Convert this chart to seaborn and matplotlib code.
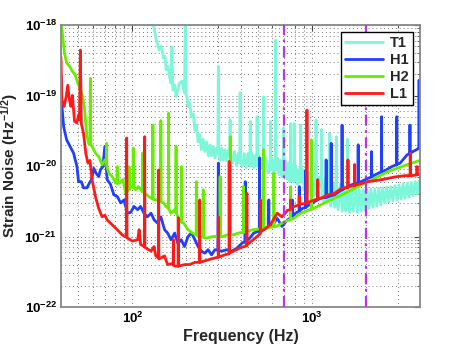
import numpy as np
import pandas as pd
import matplotlib
matplotlib.use("Agg")
import matplotlib.pyplot as plt
import seaborn as sns
from matplotlib.ticker import FixedLocator, FuncFormatter, NullFormatter

# ---------------- data ----------------
T1_freq = [130, 136, 141, 145, 149, 152, 154, 158, 161, 164, 166, 168, 172, 175, 179, 183,
           189, 193, 195, 197, 199, 201, 205, 208,
           213, 218, 223, 227, 232, 237, 242, 248, 253, 259, 265, 271, 276, 282, 288, 295,
           299, 301, 303, 308, 315, 321, 328, 335, 344, 348, 350, 352, 360, 370, 380, 388,
           396, 398, 400, 410, 420, 430, 440, 451, 453, 455, 465, 475, 485, 493, 495, 497,
           505, 515, 525, 536, 538, 540, 550, 560, 572, 585, 587, 589, 597, 610, 618, 625,
           627, 629, 640, 655, 668, 680, 694, 696, 698, 710, 725, 740, 752, 759, 761, 763,
           772, 785, 794, 796, 798, 812, 830, 848, 863, 866, 869, 885, 905, 925, 945, 965,
           985, 1005, 1025, 1051, 1054, 1057, 1075, 1100, 1127, 1130, 1133, 1155, 1180,
           1210, 1246, 1250, 1254, 1275, 1310, 1340, 1366, 1370, 1374, 1400, 1440, 1475,
           1510, 1545, 1576, 1580, 1584, 1620, 1660, 1700, 1745, 1790, 1835, 1880, 1930,
           1980, 2030, 2080, 2130, 2185, 2240, 2300, 2360, 2420, 2480, 2545, 2610, 2680,
           2750, 2820, 2900, 2980, 3060, 3140, 3220, 3300, 3390, 3480, 3570, 3660, 3760,
           3860, 3960, 4000]
T1_asd = [1.1e-18, 6e-19, 4.4e-19, 5e-19, 3.4e-19, 3.6e-19, 2.3e-19, 2.6e-19, 1.85e-19,
          1.5e-19, 4.9e-19, 1.2e-19, 1.4e-19, 9.7e-20, 1.2e-19, 1.5e-19,
          1.6e-19, 1.2e-19, 1.1e-19, 1.2e-18, 1.0e-19, 9.7e-20, 7e-20, 8e-20, 5e-20, 5.5e-20,
          3.2e-20, 3.8e-20, 2.2e-20, 2.8e-20, 1.7e-20, 2.4e-20, 1.6e-20, 2.2e-20, 1.4e-20,
          2.0e-20, 1.4e-20, 1.9e-20, 1.3e-20, 1.8e-20, 1.5e-20, 2.6e-19, 1.5e-20, 1.2e-20,
          1.8e-20, 1.2e-20, 1.7e-20, 1.2e-20, 1.7e-20, 1.4e-20, 4.5e-20, 1.3e-20, 1.1e-20,
          1.6e-20, 1.0e-20, 1.5e-20, 1.1e-20, 1.1e-19, 1.1e-20, 1.0e-20, 1.5e-20, 9.5e-21,
          1.5e-20, 1.0e-20, 4.3e-20, 1.0e-20, 1.5e-20, 9.5e-21, 1.4e-20, 1.0e-20, 5.0e-20,
          1.0e-20, 1.4e-20, 9e-21, 1.3e-20, 9e-21, 9.6e-20, 9e-21, 1.3e-20, 1.2e-20, 8e-21,
          9e-21, 4.3e-20, 9e-21, 1.3e-20, 8e-21, 1.2e-20, 9e-21, 6.1e-19, 9e-21, 1.3e-20,
          7.5e-21, 1.2e-20, 7e-21, 8e-21, 3.5e-20, 8e-21, 1.2e-20, 6.5e-21, 1.1e-20, 6e-21,
          7e-21, 4.0e-20, 7e-21, 1.0e-20, 6e-21, 7e-21, 4.0e-20, 6e-21, 1.0e-20, 5.5e-21,
          9e-21, 6e-21, 3.8e-20, 6e-21, 9e-21, 4.5e-21, 8.5e-21, 4.2e-21, 8e-21, 4e-21,
          7.5e-21, 3.8e-21, 5e-21, 4.5e-20, 5e-21, 3.5e-21, 7e-21, 5e-21, 3.3e-20, 5e-21,
          3.2e-21, 6.5e-21, 3.0e-21, 4e-21, 2.9e-20, 4e-21, 2.7e-21, 5.8e-21, 2.6e-21, 4e-21,
          2.6e-20, 4e-21, 2.4e-21, 5.5e-21, 2.3e-21, 5.2e-21, 2.3e-21, 4e-21, 2.4e-20, 4e-21,
          2.2e-21, 5e-21, 2.3e-21, 4.8e-21, 2.2e-21, 4.7e-21, 2.3e-21, 4.6e-21, 2.4e-21,
          4.6e-21, 2.5e-21, 4.7e-21, 2.6e-21, 4.7e-21, 2.7e-21, 4.8e-21, 2.8e-21, 4.9e-21,
          3.0e-21, 5.0e-21, 3.1e-21, 5.1e-21, 3.2e-21, 5.3e-21, 3.3e-21, 5.4e-21, 3.4e-21,
          5.6e-21, 3.5e-21, 5.7e-21, 3.6e-21, 5.8e-21, 3.8e-21, 6.0e-21, 4.0e-21, 6.2e-21,
          5.0e-21]

H1_freq = [40.0, 40.5, 41.4, 43.0, 44.9, 47.0, 49.1, 50.1, 51.9, 53.4, 55.8, 57.5, 59.1,
           60.9, 62.7, 64.9, 66.3, 68.4, 70.2, 72.3, 75.5, 78.8, 82.3, 86.0, 89.8, 93.7,
           97.9, 102, 107, 111, 116, 121, 127, 132, 138, 144, 151, 157, 164, 172, 179, 187,
           195, 204, 213, 223, 232, 242, 253, 264, 276, 288, 299, 301, 303, 315, 335, 358,
           381, 407, 423, 425, 427, 443, 474, 509, 511, 513, 538, 573, 575, 577, 600, 641,
           681, 730, 777, 779, 781, 810, 848, 850, 852, 885, 923, 925, 927, 965, 1050, 1124,
           1198, 1200, 1202, 1250, 1278, 1280, 1282, 1336, 1410, 1469, 1472, 1475, 1520,
           1656, 1807, 1810, 1813, 1880, 2057, 2145, 2148, 2151, 2250, 2440, 2444, 2448,
           2550, 2786, 2966, 2970, 2974, 3100, 3390, 3512, 3516, 3520, 3650, 3900, 3950,
           3955, 3960, 4000]
H1_asd = [1.9e-19, 7.0e-20, 3.6e-20, 2.35e-20, 1.9e-20, 1.52e-20, 9.8e-21, 6.0e-21, 6.0e-21,
          4.9e-21, 4.9e-21, 5.7e-21, 6.4e-21, 9.3e-21, 7.9e-21, 7.1e-21, 8.8e-21, 9.8e-21,
          1.9e-20, 6.4e-21, 5.5e-21, 3.9e-21, 3.7e-21, 3.0e-21, 3.3e-21, 2.14e-21, 2.2e-21,
          2.67e-21, 2.4e-21, 2.67e-21, 2.14e-21, 1.9e-21, 2.14e-21, 1.72e-21, 1.55e-21,
          1.9e-21, 1.25e-21, 1.12e-21, 9.0e-22, 1.12e-21, 8.0e-22, 9.0e-22, 7.2e-22, 1.0e-21,
          1.12e-21, 9.0e-22, 7.2e-22, 6.2e-22, 5.8e-22, 6.5e-22, 5.5e-22, 6.5e-22, 6.4e-22,
          1.1e-20, 6.3e-22, 6.2e-22, 6.5e-22, 6.2e-22, 6.8e-22, 8.0e-22, 8.5e-22, 6.0e-21,
          8.6e-22, 9.0e-22, 1.12e-21, 1.2e-21, 1.3e-20, 1.2e-21, 1.25e-21, 1.4e-21, 3.3e-21,
          1.4e-21, 1.45e-21, 1.8e-21, 1.39e-21, 1.72e-21, 1.9e-21, 3.3e-21, 1.9e-21, 2.14e-21,
          2.3e-21, 5.1e-21, 2.3e-21, 2.5e-21, 2.6e-21, 8.8e-21, 2.6e-21, 2.8e-21, 3.2e-21,
          3.5e-21, 3.6e-21, 1.22e-20, 3.6e-21, 3.7e-21, 3.8e-21, 2.1e-20, 3.8e-21, 3.9e-21,
          4.3e-21, 4.6e-21, 3.8e-20, 4.6e-21, 4.8e-21, 5.4e-21, 5.8e-21, 2.0e-20, 5.8e-21,
          6.0e-21, 6.7e-21, 7.0e-21, 1.6e-20, 7.0e-21, 7.5e-21, 8.3e-21, 5.0e-20, 8.3e-21,
          8.6e-21, 9.8e-21, 1.05e-20, 5.0e-20, 1.05e-20, 1.1e-20, 1.44e-20, 1.5e-20, 3.8e-20,
          1.5e-20, 1.6e-20, 1.75e-20, 1.8e-20, 1.65e-19, 1.8e-20, 1.9e-20]

H2_freq = [40.1, 40.9, 41.8, 43.0, 44.6, 46.3, 48.0, 49.6, 51.1, 52.8, 54.2, 55.8, 57.0,
           58.0, 58.3, 58.6, 59.6, 62.2, 64.9, 67.8, 70.2, 71.5, 71.7, 71.9, 73.9, 77.1,
           80.6, 82.1, 82.3, 82.5, 84.8, 88.6, 91.7, 95.6, 95.8, 96.0, 97.9, 100.8, 101,
           101.2, 104, 108, 113.8, 114, 114.2, 118, 123, 129.8, 130, 130.2, 134, 140, 143.8,
           144, 144.2, 149, 154, 158.8, 159, 159.2, 164, 172, 174.8, 175, 175.2, 179, 187.8,
           188, 188.2, 193, 204, 216, 226.5, 227, 227.5, 234, 247.5, 248, 248.5, 259, 282,
           307.5, 308, 308.5, 315, 335, 350.5, 351, 351.5, 361, 390, 414.5, 415, 415.5, 430,
           474, 537, 538, 539, 556, 613, 614, 615, 635, 698, 759, 760, 761, 788, 867, 992,
           993, 994, 1022, 1174, 1336, 1588, 1887, 2243, 2666, 3168, 3600, 4000]
H2_asd = [1.2e-18, 6.8e-19, 4.0e-19, 2.9e-19, 2.6e-19, 2.2e-19, 1.96e-19, 1.5e-19, 1.27e-19,
          9.7e-20, 6.2e-20, 2.6e-20, 2.1e-20, 2.0e-20, 1.75e-19, 2.0e-20, 1.9e-20, 1.52e-20,
          1.36e-20, 1.04e-20, 1.22e-20, 1.1e-20, 2.1e-20, 1.0e-20, 7.9e-21, 7.1e-21, 5.7e-21,
          5.7e-21, 9.8e-21, 5.7e-21, 5.7e-21, 6.4e-21, 4.1e-21, 4.6e-21, 9.8e-21, 4.6e-21,
          5.1e-21, 5.0e-21, 1.8e-20, 5.0e-21, 4.6e-21, 5.1e-21, 4.3e-21, 1.52e-20, 4.3e-21,
          4.1e-21, 3.7e-21, 3.4e-21, 3.8e-20, 3.4e-21, 3.3e-21, 3.3e-21, 3.1e-21, 4.4e-20,
          3.1e-21, 3.0e-21, 2.67e-21, 2.5e-21, 5.6e-20, 2.5e-21, 2.14e-21, 2.4e-21, 2.2e-21,
          1.9e-20, 2.2e-21, 1.9e-21, 1.6e-21, 9.8e-21, 1.6e-21, 1.55e-21, 1.25e-21, 1.12e-21,
          1.05e-21, 6.0e-21, 1.05e-21, 1.0e-21, 9.8e-22, 4.6e-21, 9.8e-22, 9.5e-22, 1.0e-21,
          1.0e-21, 7.1e-21, 1.0e-21, 9.9e-22, 1.05e-21, 1.07e-21, 2.6e-20, 1.07e-21, 1.05e-21,
          1.12e-21, 1.15e-21, 5.1e-21, 1.15e-21, 1.18e-21, 1.25e-21, 1.3e-21, 1.7e-20, 1.3e-21,
          1.3e-21, 1.38e-21, 7.9e-21, 1.38e-21, 1.39e-21, 1.6e-21, 1.75e-21, 5.1e-21, 1.75e-21,
          1.8e-21, 2.14e-21, 2.45e-21, 2.35e-20, 2.45e-21, 2.5e-21, 3.0e-21, 3.5e-21, 4.3e-21,
          5.4e-21, 6.7e-21, 8.4e-21, 9.8e-21, 1.1e-20, 1.2e-20]

L1_freq = [40.0, 40.4, 41.6, 42.8, 43.6, 44.6, 45.5, 46.3, 47.6, 49.0, 50.1, 50.7, 51.3,
           51.9, 53.4, 55.0, 56.5, 58.0, 59.6, 62.2, 64.9, 67.8, 70.2, 72.3, 77.1, 82.3,
           87.8, 92.5, 92.9, 93.3, 100, 107, 109, 111, 116.6, 117, 117.4, 127, 132, 135,
           139.6, 140, 140.4, 151, 157, 164, 168.6, 169, 169.4, 173, 179.6, 180, 180.4, 196,
           208, 223, 236.5, 237, 237.5, 259, 282, 300.5, 301, 301.5, 328, 345.5, 346, 346.5,
           398, 433.5, 434, 434.5, 495, 515.5, 516, 516.5, 587, 641, 681, 730, 759, 760, 761,
           796, 849, 850, 851, 885, 937, 938, 939, 1031, 1076, 1077, 1078, 1124, 1225, 1336,
           1456, 1587, 1588, 1589, 1620, 1730, 1731, 1732, 1770, 2057, 2445, 2906, 3310,
           3528, 3530, 3532, 3600, 3848, 3850, 3852, 3930, 4000]
L1_asd = [3.5e-19, 8.7e-20, 7.0e-20, 9.7e-20, 1.4e-19, 8.7e-20, 7.0e-20, 1.0e-19, 4.3e-20,
          4.1e-20, 5.3e-20, 4.5e-20, 4.4e-19, 4.0e-20, 2.9e-20, 1.5e-20, 1.1e-20, 1.2e-20,
          6.4e-21, 3.7e-21, 2.5e-21, 1.9e-21, 2.0e-21, 1.72e-21, 1.47e-21, 1.25e-21, 1.05e-21,
          9.8e-22, 2.5e-20, 9.6e-22, 8.6e-22, 9.0e-22, 1.25e-21, 7.7e-22, 7.2e-22, 2.6e-20,
          7.0e-22, 6.2e-22, 7.2e-22, 5.3e-22, 5.0e-22, 8.8e-21, 4.8e-22, 5.3e-22, 4.0e-22,
          4.1e-22, 4.0e-22, 9.0e-22, 3.9e-22, 3.8e-22, 3.8e-22, 1.85e-21, 3.8e-22, 4.0e-22,
          4.0e-22, 4.3e-22, 4.3e-22, 3.3e-21, 4.3e-22, 4.6e-22, 4.9e-22, 5.1e-22, 1.9e-21,
          5.1e-22, 5.5e-22, 5.7e-22, 1.16e-20, 5.8e-22, 6.9e-22, 7.4e-22, 4.1e-21, 7.6e-22,
          1.0e-21, 1.1e-21, 3.3e-21, 1.15e-21, 1.47e-21, 2.14e-21, 1.9e-21, 2.35e-21, 2.4e-21,
          3.3e-21, 2.5e-21, 2.67e-21, 2.8e-21, 3.7e-21, 2.85e-21, 2.9e-21, 3.0e-21, 6.2e-20,
          3.0e-21, 3.3e-21, 3.4e-21, 6.4e-21, 3.45e-21, 3.5e-21, 3.9e-21, 4.1e-21, 4.8e-21,
          5.0e-21, 1.22e-20, 5.0e-21, 5.1e-21, 5.3e-21, 1.05e-20, 5.3e-21, 5.4e-21, 6.0e-21,
          6.4e-21, 7.0e-21, 7.3e-21, 7.3e-21, 1.52e-20, 7.3e-21, 7.3e-21, 7.5e-21, 9.8e-21,
          7.5e-21, 7.6e-21, 7.7e-21]

detectors = ["T1", "H1", "H2", "L1"]
colors = ["#7DF7DA", "#2040FF", "#66EE00", "#FF1A1A"]
marker_freqs = [700, 2000]
x_decades = [1, 2, 3]
y_decades = [-22, -21, -20, -19, -18]

frames = []
for name, fr, asd in [("T1", T1_freq, T1_asd), ("H1", H1_freq, H1_asd),
                      ("H2", H2_freq, H2_asd), ("L1", L1_freq, L1_asd)]:
    frames.append(pd.DataFrame({"detector": name, "freq": fr, "asd": asd}))
df = pd.concat(frames, ignore_index=True)

# ---------------- style ----------------
sns.set_style("white")
plt.rcParams["font.family"] = ["Liberation Sans", "DejaVu Sans"]
plt.rcParams["font.weight"] = "bold"
plt.rcParams["mathtext.fontset"] = "custom"
plt.rcParams["mathtext.rm"] = "Liberation Sans:bold"
plt.rcParams["mathtext.bf"] = "Liberation Sans:bold"
plt.rcParams["mathtext.it"] = "Liberation Sans:bold"
plt.rcParams["mathtext.sf"] = "Liberation Sans:bold"

fig = plt.figure(figsize=(4.63, 3.48), dpi=100)
ax = fig.add_axes([61 / 463, 1 - 307 / 348, (420 - 61) / 463, (307 - 25) / 348])
ax.set_xscale("log")
ax.set_yscale("log")

sns.lineplot(data=df, x="freq", y="asd", hue="detector", hue_order=detectors,
             palette=colors, estimator=None, sort=False, linewidth=2.0,
             legend=False, ax=ax)

for f in marker_freqs:
    ax.axvline(f, color="#B833F5", linestyle=(0, (5, 2, 1.2, 2)), linewidth=1.6, zorder=5)

xmin, xmax, ymin, ymax = 40, 4000, 1e-22, 1e-18
ax.set_xlim(xmin, xmax)
ax.set_ylim(ymin, ymax)

x_major = [10.0 ** d for d in x_decades if xmin <= 10.0 ** d <= xmax]
y_major = [10.0 ** d for d in y_decades]
x_minor = [m * 10.0 ** d for d in x_decades for m in range(2, 10)
           if xmin <= m * 10.0 ** d <= xmax]
y_minor = [m * 10.0 ** d for d in y_decades[:-1] for m in range(2, 10)]
ax.xaxis.set_major_locator(FixedLocator(x_major))
ax.yaxis.set_major_locator(FixedLocator(y_major))
ax.xaxis.set_minor_locator(FixedLocator(x_minor))
ax.yaxis.set_minor_locator(FixedLocator(y_minor))
fmt = FuncFormatter(lambda v, p: r"$\mathbf{10^{%d}}$" % int(round(np.log10(v))))
ax.xaxis.set_major_formatter(fmt)
ax.yaxis.set_major_formatter(fmt)
ax.xaxis.set_minor_formatter(NullFormatter())
ax.yaxis.set_minor_formatter(NullFormatter())

ax.grid(True, which="both", linestyle=(0, (0.8, 3.2)), color="#222222", linewidth=0.7,
        alpha=0.75)
ax.set_axisbelow(True)
ax.tick_params(which="both", direction="in", top=True, right=True, labelsize=9.5,
               colors="#444444", labelcolor="black", pad=3)
ax.tick_params(which="major", length=4)
ax.tick_params(which="minor", length=2)
for s in ax.spines.values():
    s.set_color("#888888")
    s.set_linewidth(1.3)

ax.set_xlabel("Frequency (Hz)", fontsize=11.5, fontweight="bold", labelpad=2)
ax.set_ylabel(r"Strain Noise (Hz$^{\mathbf{-1/2}}$)", fontsize=11, fontweight="bold",
              labelpad=3)

handles = ax.lines[:4]
leg = ax.legend(handles, detectors, loc="upper right", fontsize=10.5, frameon=True,
                fancybox=False, edgecolor="black", framealpha=1, handlelength=2.6,
                borderaxespad=0.45, labelspacing=0.2, handletextpad=0.5,
                borderpad=0.3)
leg.get_frame().set_linewidth(1.0)
leg.set_zorder(10)

fig.savefig("out.png", dpi=100)
